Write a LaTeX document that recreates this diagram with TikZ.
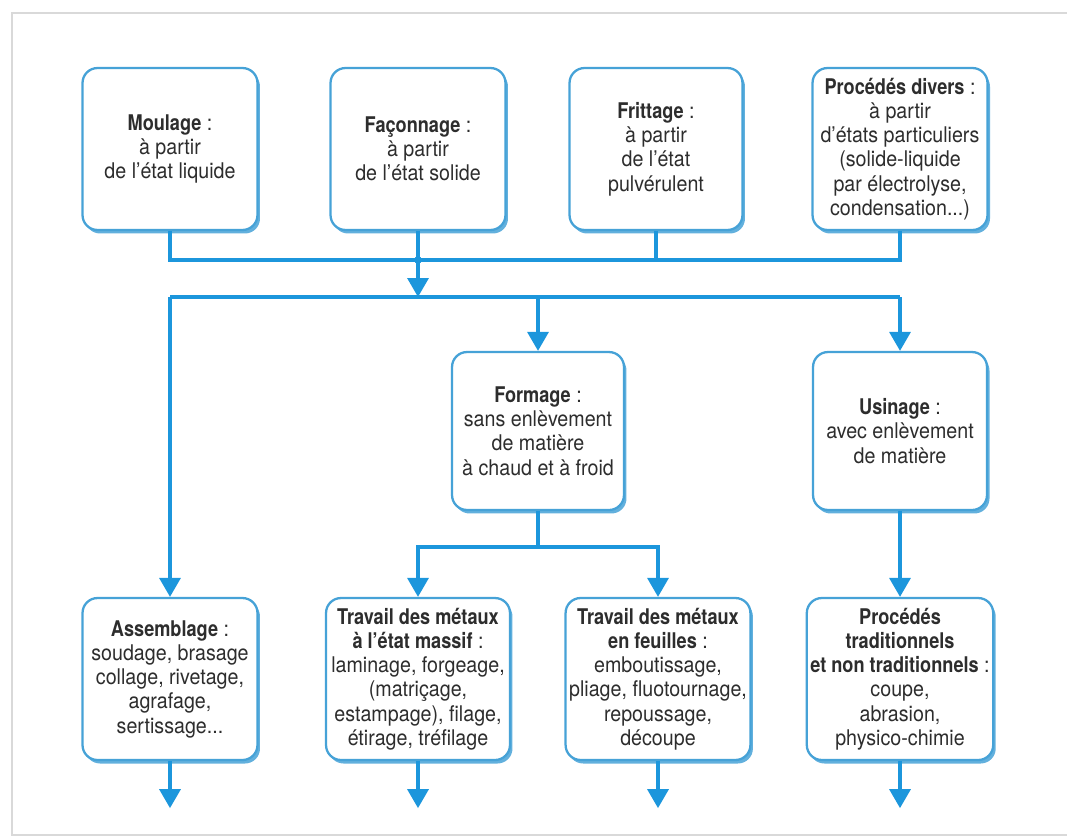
\documentclass[tikz,border=0pt]{standalone}
\usepackage{fontspec}
\setmainfont{TeX Gyre Heros}[FakeStretch=0.91,BoldFeatures={FakeStretch=0.84}]
\usetikzlibrary{arrows.meta,shadows}
\definecolor{lineblue}{RGB}{28,150,220}
\definecolor{boxblue}{RGB}{70,162,215}
\definecolor{txtgray}{RGB}{45,45,45}
\tikzset{
  box/.style={draw=boxblue, line width=1.3pt, rounded corners=0.3cm, fill=white,
    align=center, text=txtgray, inner sep=2pt,
    font=\fontsize{12.3}{13.8}\selectfont,
    drop shadow={shadow xshift=0.05cm, shadow yshift=-0.07cm, fill=boxblue, opacity=0.85}},
  link/.style={draw=lineblue, line width=1.9pt},
  tip/.style={link, -{Triangle[width=0.42cm,length=0.38cm]}}
}

\begin{document}
\begin{tikzpicture}[x=0.02cm,y=-0.02cm]
  \useasboundingbox (0,0) rectangle (1067,836);
  \draw[gray!30, line width=1.5pt] (1067,13) -- (12,13) -- (12,835) -- (1067,835);

  % procedes d'obtention
  \node[box, minimum width=3.5cm, minimum height=3.24cm] (moulage) at (170,149)
    {\textbf{Moulage}~:\\à partir\\de l'état liquide};
  \node[box, minimum width=3.5cm, minimum height=3.24cm] (faconnage) at (418,149)
    {\textbf{Façonnage}~:\\à partir\\de l'état solide};
  \node[box, minimum width=3.46cm, minimum height=3.24cm] (frittage) at (656,149)
    {\textbf{Frittage}~:\\à partir\\de l'état\\pulvérulent};
  \node[box, minimum width=3.5cm, minimum height=3.24cm] (divers) at (900,149)
    {\textbf{Procédés divers}~:\\à partir\\d'états particuliers\\(solide-liquide\\par électrolyse,\\condensation...)};

  % mise en forme
  \node[box, minimum width=3.44cm, minimum height=3.16cm] (formage) at (538,431)
    {\textbf{Formage}~:\\sans enlèvement\\de matière\\à chaud et à froid};
  \node[box, minimum width=3.48cm, minimum height=3.16cm] (usinage) at (900,431)
    {\textbf{Usinage}~:\\avec enlèvement\\de matière};

  \node[box, minimum width=3.5cm, minimum height=3.24cm] (assemblage) at (170,679)
    {\textbf{Assemblage}~:\\soudage, brasage\\collage, rivetage,\\agrafage,\\sertissage...};
  \node[box, minimum width=3.68cm, minimum height=3.24cm] (massif) at (418,679)
    {\textbf{Travail des métaux}\\\textbf{à l'état massif}~:\\laminage, forgeage,\\(matriçage,\\estampage), filage,\\étirage, tréfilage};
  \node[box, minimum width=3.66cm, minimum height=3.24cm] (feuilles) at (658,679)
    {\textbf{Travail des métaux}\\\textbf{en feuilles}~:\\emboutissage,\\pliage, fluotournage,\\repoussage,\\découpe};
  \node[box, minimum width=3.72cm, minimum height=3.24cm] (trad) at (900,679)
    {\textbf{Procédés}\\\textbf{traditionnels}\\\textbf{et non traditionnels}~:\\coupe,\\abrasion,\\physico-chimie};

  \coordinate (hub) at (418,260);
  \coordinate (busL) at (170,297);
  \coordinate (busM) at (418,297);
  \coordinate (busR) at (900,297);
  \coordinate (fbus) at (538,547);

  % collecteur du haut
  \draw[link] (moulage.south) |- (hub) -| (divers.south);
  \draw[link] (faconnage.south) -- (hub);
  \draw[link] (frittage.south) -- (frittage.south |- hub);
  \fill[lineblue] (hub) circle (3.8);
  \draw[tip] (hub) -- (busM);

  % repartition
  \draw[link] (busL) -- (busR);
  \draw[tip] (busL) -- (assemblage.north);
  \draw[tip] (formage.north |- busL) -- (formage.north);
  \draw[tip] (busR) -- (usinage.north);

  \draw[link] (formage.south) -- (fbus);
  \draw[tip] (fbus) -| (massif.north);
  \draw[tip] (fbus) -| (feuilles.north);
  \draw[tip] (usinage.south) -- (trad.north);

  % sorties
  \foreach \n in {assemblage,massif,feuilles,trad}
    \draw[tip] (\n.south) -- ++(0,47);
\end{tikzpicture}
\end{document}
